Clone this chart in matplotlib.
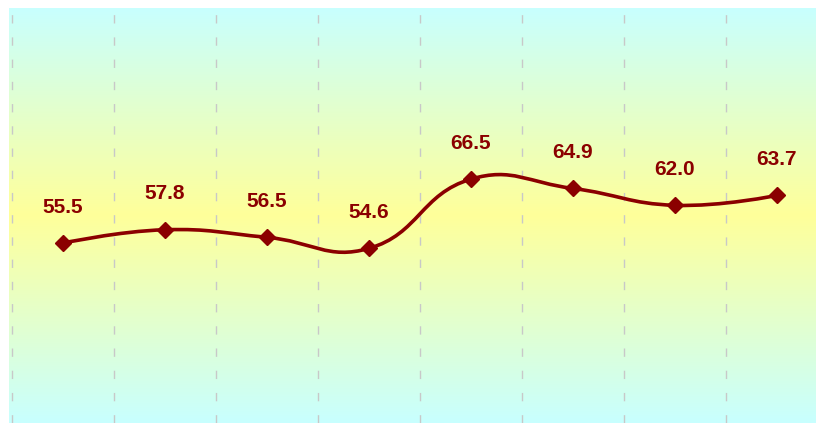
import numpy as np
import matplotlib
matplotlib.use("Agg")
import matplotlib.pyplot as plt
from matplotlib.path import Path
from matplotlib.patches import PathPatch
from matplotlib.colors import LinearSegmentedColormap

categories = ["A", "B", "C", "D", "E", "F", "G", "H"]
values = [55.5, 57.8, 56.5, 54.6, 66.5, 64.9, 62.0, 63.7]
labels = [f"{v:.1f}" for v in values]

line_color = "#8b0000"
smooth = 0.45


def smooth_path(xs, ys, sx, sy):
    # bezier control points computed in pixel-like space
    px = np.asarray(xs, float) * sx
    py = np.asarray(ys, float) * sy
    n = len(px)
    cp_before = [(px[i], py[i]) for i in range(n)]
    cp_after = [(px[i], py[i]) for i in range(n)]
    for i in range(1, n - 1):
        vx, vy = px[i + 1] - px[i - 1], py[i + 1] - py[i - 1]
        d0 = np.hypot(px[i] - px[i - 1], py[i] - py[i - 1])
        d1 = np.hypot(px[i + 1] - px[i], py[i + 1] - py[i])
        r = d1 / (d0 + d1)
        cp_after[i] = (px[i] + vx * smooth * r, py[i] + vy * smooth * r)
        cp_before[i] = (px[i] - vx * smooth * (1 - r), py[i] - vy * smooth * (1 - r))
    verts = [(px[0], py[0])]
    codes = [Path.MOVETO]
    for i in range(1, n):
        verts += [cp_after[i - 1], cp_before[i], (px[i], py[i])]
        codes += [Path.CURVE4] * 3
    verts = [(x / sx, y / sy) for x, y in verts]
    return Path(verts, codes)


W, H = 816, 423
fig = plt.figure(figsize=(W / 100, H / 100), dpi=100)
ax = fig.add_axes([9 / W, 0, 1 - 9 / W, 1 - 8 / H])

x = np.arange(len(categories))
ax.set_xlim(-0.529, 7.383)
ax.set_ylim(24.6, 95.9)

# background gradient cyan -> yellow -> cyan
cmap = LinearSegmentedColormap.from_list("bg", ["#c8ffff", "#ffff9a", "#c8ffff"])
grad = np.linspace(0, 1, 256).reshape(-1, 1)
ax.imshow(grad, aspect="auto", cmap=cmap, extent=[0, 1, 0, 1],
          transform=ax.transAxes, zorder=0)

for g in np.arange(-0.5, len(categories), 1.0):
    ax.axvline(g, color="#c8c8c8", lw=1, ls=(0, (6, 10)), zorder=1)

path = smooth_path(x, values, 102.0, 5.82)
ax.add_patch(PathPatch(path, fill=False, edgecolor=line_color, lw=2.6,
                       capstyle="round", joinstyle="round", zorder=3))
ax.plot(x, values, ls="none", marker="D", ms=8, color=line_color,
        mec=line_color, zorder=4)

for xi, v, lab in zip(x, values, labels):
    ax.annotate(lab, (xi, v), xytext=(0, 26), textcoords="offset points",
                ha="center", va="center", fontsize=15, fontweight="bold",
                color=line_color, family="Liberation Sans", zorder=5)

for s in ax.spines.values():
    s.set_visible(False)
ax.set_xticks([])
ax.set_yticks([])

fig.savefig("out.png", dpi=100, facecolor="white")
